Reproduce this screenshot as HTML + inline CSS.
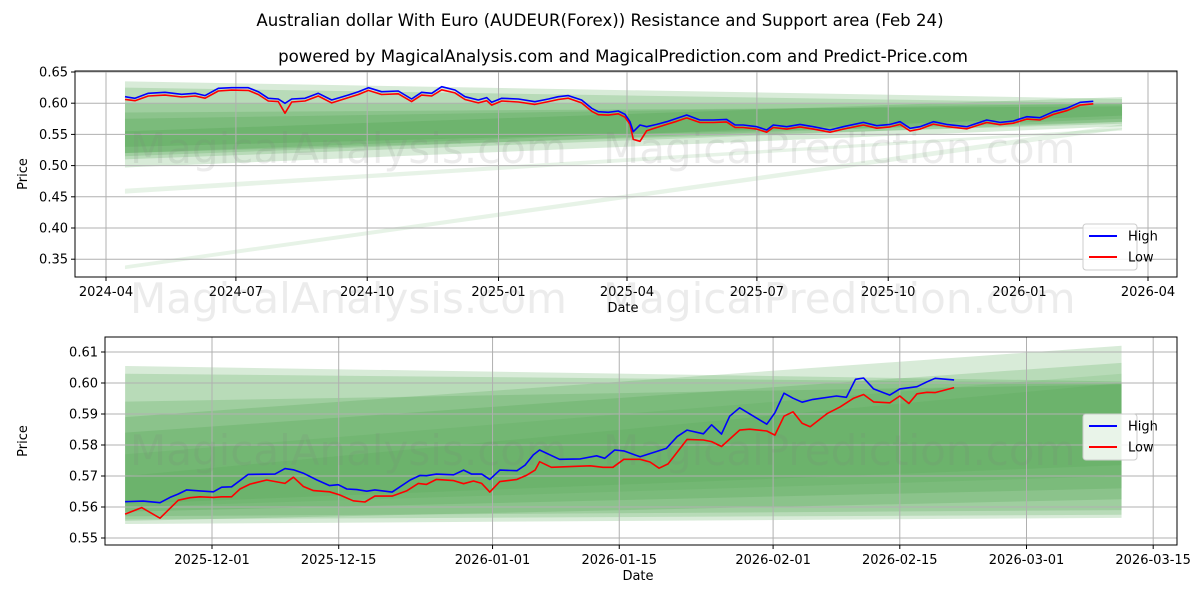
<!DOCTYPE html>
<html><head><meta charset="utf-8"><style>
body{margin:0;background:#fff}
svg{display:block;font-family:"DejaVu Sans","Liberation Sans",sans-serif}
</style></head><body>
<svg id="s" width="1200" height="600" xmlns="http://www.w3.org/2000/svg">
<rect width="1200" height="600" fill="#fff"/>
<text x="600" y="26" text-anchor="middle" font-size="16.6">Australian dollar With Euro (AUDEUR(Forex)) Resistance and Support area (Feb 24)</text>
<text x="623" y="62" text-anchor="middle" font-size="16.6">powered by MagicalAnalysis.com and MagicalPrediction.com and Predict-Price.com</text>
<g id="top"></g>
<g id="bot"></g>
</svg>
<script>
const topHighDays=[13.3,20.3,29.6,41.3,53.0,62.4,69.4,78.7,88.0,99.7,106.7,113.7,120.7,125.4,130.1,139.4,148.7,158.1,169.8,176.8,183.8,193.1,204.8,214.1,221.1,228.2,235.2,244.5,251.5,260.8,266.7,270.2,277.2,288.9,300.5,309.9,316.9,323.9,333.2,340.3,344.9,351.9,358.9,363.6,367.1,369.4,374.1,378.8,385.8,392.8,399.8,406.8,416.1,425.5,434.8,440.7,446.5,455.9,462.9,467.5,476.9,486.2,495.5,507.2,516.5,530.6,539.9,549.3,556.3,563.3,570.3,579.6,588.9,603.0,617.0,626.3,635.6,645.0,654.3,663.7,673.0,682.4,691.7];
const topHigh=[.6104,.6078,.6158,.6174,.6142,.6158,.6121,.6238,.6249,.6249,.6185,.6078,.6067,.5998,.6067,.6078,.6158,.6051,.6131,.6185,.6249,.6185,.6196,.6067,.6174,.6158,.6265,.6212,.6104,.6051,.6089,.6014,.6078,.6067,.6024,.6067,.6104,.6121,.6051,.5918,.5864,.5854,.5875,.5822,.5704,.5544,.5651,.5624,.5661,.5704,.5757,.5811,.5731,.5731,.5741,.5651,.5651,.5624,.5571,.5651,.5624,.5661,.5624,.5571,.5624,.5693,.5640,.5661,.5704,.5597,.5624,.5704,.5661,.5624,.5731,.5693,.5715,.5784,.5768,.5864,.5918,.6015,.6030];
const topLow=[.6060,.6040,.6115,.6130,.6100,.6115,.6080,.6195,.6210,.6205,.6140,.6035,.6025,.5840,.6020,.6035,.6115,.6005,.6090,.6140,.6205,.6140,.6150,.6025,.6130,.6115,.6215,.6165,.6060,.6005,.6040,.5970,.6035,.6020,.5980,.6025,.6060,.6080,.6005,.5870,.5815,.5810,.5830,.5775,.5660,.5420,.5390,.5560,.5610,.5660,.5710,.5765,.5690,.5690,.5700,.5610,.5610,.5585,.5535,.5610,.5585,.5620,.5585,.5535,.5585,.5650,.5600,.5620,.5660,.5555,.5585,.5665,.5625,.5590,.5690,.5655,.5680,.5745,.5730,.5820,.5880,.5970,.5990];
const topYTicks=[0.35,0.40,0.45,0.50,0.55,0.60,0.65];
const topXTickDays=[0,91,183,275,365,456,548,640,730];
const topXTickLabels=["2024-04","2024-07","2024-10","2025-01","2025-04","2025-07","2025-10","2026-01","2026-04"];
const topBandStart=13.3, topBandEnd=711.8;
const topBands=[[.635,.497,.607,.563],[.625,.52,.600,.567],[.60,.53,.598,.57],[.585,.515,.595,.575],[.575,.52,.60,.58],[.555,.51,.61,.57],[.463,.455,.560,.556],[.340,.334,.566,.558]];
const botHighDays=[-9.6,-7.6,-5.75,-4.64,-3.72,-2.8,-1.33,0.15,1.07,2.17,4.0,6.96,8.07,8.99,10.1,11.6,13.0,13.96,14.9,16.0,17.1,18.0,19.9,21.9,23.0,23.7,24.8,26.7,27.8,28.7,29.8,30.7,31.8,33.7,34.6,35.5,36.2,38.4,40.7,42.5,43.4,44.5,45.5,47.3,50.2,51.4,52.5,54.3,55.2,56.3,57.2,58.3,61.3,62.2,63.2,64.2,65.2,66.4,69.0,70.1,71.1,72.0,73.1,74.9,76.0,77.9,79.0,79.9,82.0];
const botHigh=[.5617,.5619,.5614,.5631,.5642,.5655,.5652,.5649,.5664,.5665,.5705,.5706,.5724,.5720,.5709,.5687,.5669,.5672,.5658,.5656,.5651,.5655,.5648,.5687,.5702,.5701,.5706,.5704,.5719,.5706,.5706,.5689,.5719,.5717,.5735,.5768,.5784,.5754,.5755,.5765,.5757,.5784,.5781,.5762,.5789,.5827,.5848,.5836,.5865,.5835,.5893,.5920,.5867,.5904,.5967,.5951,.5938,.5947,.5958,.5954,.6012,.6016,.5981,.5961,.5981,.5988,.6004,.6015,.6010];
const botLowDays=[-9.6,-7.77,-5.75,-3.72,-2.43,-1.33,0.15,1.07,2.17,3.09,4.2,6.04,8.07,8.99,10.1,11.2,13.0,14.1,15.6,16.9,18.0,19.9,21.5,22.8,23.7,24.8,26.7,27.8,28.9,29.8,30.7,31.8,33.7,34.8,35.7,36.2,37.5,39.9,41.8,43.2,44.3,45.5,47.3,48.4,49.4,50.4,52.5,54.3,55.2,56.3,58.3,59.4,61.3,62.2,63.2,64.2,65.2,66.1,68.0,69.4,70.9,72.0,73.1,74.9,76.0,77.0,77.9,79.0,79.9,82.0];
const botLow=[.5577,.5598,.5564,.5622,.5630,.5633,.5631,.5633,.5633,.5658,.5674,.5687,.5676,.5696,.5666,.5653,.5649,.5639,.5620,.5616,.5635,.5635,.5652,.5676,.5673,.5689,.5685,.5675,.5684,.5676,.5648,.5682,.5689,.5703,.5719,.5746,.5728,.5731,.5733,.5728,.5728,.5754,.5754,.5745,.5725,.5739,.5818,.5816,.5811,.5795,.5848,.5851,.5845,.5832,.5893,.5907,.5870,.5859,.5902,.5923,.5951,.5963,.5939,.5936,.5958,.5934,.5965,.5970,.5969,.5985];
const botYTicks=[0.55,0.56,0.57,0.58,0.59,0.60,0.61];
const botXTickDays=[0,14,31,45,62,76,90,104];
const botXTickLabels=["2025-12-01","2025-12-15","2026-01-01","2026-01-15","2026-02-01","2026-02-15","2026-03-01","2026-03-15"];
const botBandStart=-9.6, botBandEnd=100.5;
const botBands=[[.6055,.5545,.6005,.5565],[.603,.556,.600,.5575],[.594,.557,.5995,.559],[.589,.5555,.612,.5625],[.584,.5585,.6065,.566],[.577,.560,.603,.570],[.570,.561,.600,.5735]];

const NS="http://www.w3.org/2000/svg";
function mk(parent,tag,attrs){const e=document.createElementNS(NS,tag);for(const k in attrs)e.setAttribute(k,attrs[k]);parent.appendChild(e);return e;}

function drawPanel(g,cfg){
  const {L,R,T,B,x,y}=cfg;
  cfg.bands.forEach((b,i)=>{
    const x0=x(cfg.bs),x1=x(cfg.be);
    const p=mk(g,'polygon',{points:`${x0},${y(b[0])} ${x1},${y(b[2])} ${x1},${y(b[3])} ${x0},${y(b[1])}`,fill:'#3c9c3c','fill-opacity':(b[0]-b[1]<0.02?0.12:0.2)});
    
    
  });
  cfg.yTicks.forEach(v=>{
    const l=mk(g,'line',{x1:L,x2:R,y1:y(v),y2:y(v),stroke:'#b0b0b0','stroke-width':1});
    
    
    mk(g,'line',{x1:L-4,x2:L,y1:y(v),y2:y(v),stroke:'#000'});
    const t=mk(g,'text',{x:L-7,y:y(v)+4.5,'text-anchor':'end','font-size':13});
    t.textContent=v.toFixed(2);
    
    
  });
  cfg.xTicks.forEach((d,i)=>{
    const l=mk(g,'line',{x1:x(d),x2:x(d),y1:T,y2:B,stroke:'#b0b0b0','stroke-width':1});
    
    
    mk(g,'line',{x1:x(d),x2:x(d),y1:B,y2:B+4,stroke:'#000'});
    const t=mk(g,'text',{x:x(d),y:B+19,'text-anchor':'middle','font-size':13});
    t.textContent=cfg.xLabels[i];
    
    
  });
  cfg.wm.forEach(w=>{
    const t=mk(g,'text',{x:w[0],y:w[1],'font-size':42,fill:'#808080','fill-opacity':0.15});
    t.textContent=w[2];
    
    
  });
  const line=(days,vals,color,name)=>{
    const pts=days.map((d,i)=>x(d).toFixed(1)+','+y(vals[i]).toFixed(1)).join(' ');
    const p=mk(g,'polyline',{points:pts,fill:'none',stroke:color,'stroke-width':1.6,'stroke-linejoin':'round'});
    
    
  };
  line(cfg.lowDays,cfg.low,'#ff0000','low-line');
  line(cfg.highDays,cfg.high,'#0000ff','high-line');
  const f=mk(g,'rect',{x:L,y:T,width:R-L,height:B-T,fill:'none',stroke:'#000','stroke-width':1});
  
  
  const xt=mk(g,'text',{x:(L+R)/2-3,y:B+35,'text-anchor':'middle','font-size':13});
  xt.textContent='Date';
  
  
  const yt=mk(g,'text',{x:0,y:0,'text-anchor':'middle','font-size':13,transform:`translate(${cfg.ytx},${(T+B)/2}) rotate(-90)`});
  yt.textContent='Price';
  
  
  const lg=mk(g,'g',{});
  
  
  mk(lg,'rect',{x:1083,y:cfg.legY,width:54,height:46,rx:3,fill:'#fff','fill-opacity':0.85,stroke:'#ccc'});
  [['High','#0000ff'],['Low','#ff0000']].forEach((e,i)=>{
    const ey=cfg.legY+12+i*21;
    const en=mk(lg,'g',{});
    
    
    mk(en,'line',{x1:1089,x2:1117,y1:ey,y2:ey,stroke:e[1],'stroke-width':2});
    const t=mk(en,'text',{x:1128,y:ey+4.5,'font-size':13});
    t.textContent=e[0];
  });
}

drawPanel(document.getElementById('top'),{
  L:75,R:1177,T:71,B:277,
  x:d=>106+d*1.4274, y:v=>72+(0.65-v)*624,
  bands:topBands,bs:topBandStart,be:topBandEnd,
  yTicks:topYTicks,xTicks:topXTickDays,xLabels:topXTickLabels,
  highDays:topHighDays,high:topHigh,lowDays:topHighDays,low:topLow,
  ytx:27,legY:224,
  wm:[[130,163,'MagicalAnalysis.com'],[603,163,'MagicalPrediction.com'],[130,313,'MagicalAnalysis.com'],[603,313,'MagicalPrediction.com']]
});
drawPanel(document.getElementById('bot'),{
  L:105,R:1177,T:337,B:545,
  x:d=>212+d*9.05, y:v=>352+(0.61-v)*3100,
  bands:botBands,bs:botBandStart,be:botBandEnd,
  yTicks:botYTicks,xTicks:botXTickDays,xLabels:botXTickLabels,
  highDays:botHighDays,high:botHigh,lowDays:botLowDays,low:botLow,
  ytx:27,legY:414,
  wm:[[130,465,'MagicalAnalysis.com'],[603,465,'MagicalPrediction.com']]
});
</script>
</body></html>
